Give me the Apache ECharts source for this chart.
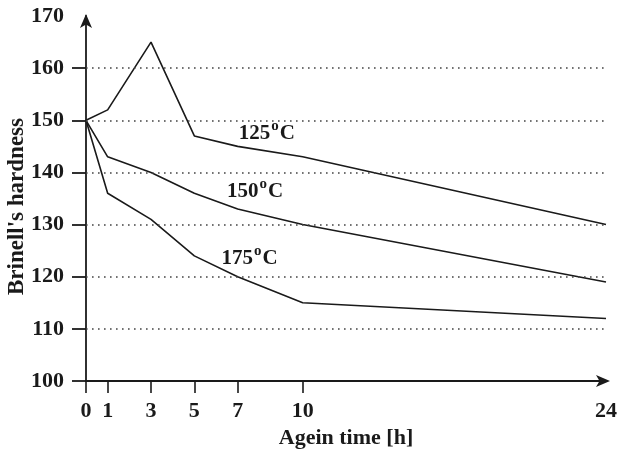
<!DOCTYPE html>
<html>
<head>
<meta charset="utf-8">
<script src="https://cdn.jsdelivr.net/npm/echarts@6/dist/echarts.min.js"></script>
<style>
  html, body { margin: 0; padding: 0; background: #fff; }
  #chart { width: 617px; height: 450px; }
</style>
</head>
<body>
<div id="chart"></div>
<script>
const hours = [0, 1, 3, 5, 7, 10, 24]
const hard125 = [150, 152, 165, 147, 145, 143, 130]
const hard150 = [150, 143, 140, 136, 133, 130, 119]
const hard175 = [150, 136, 131, 124, 120, 115, 112]
const xTicks = [0, 1, 3, 5, 7, 10]
const xLabels = [0, 1, 3, 5, 7, 10, 24]
const yTicks = [100, 110, 120, 130, 140, 150, 160]
const yLabels = [100, 110, 120, 130, 140, 150, 160, 170]
const gridValues = [110, 120, 130, 140, 150, 160]
// curve labels: [name, x, y] in data units
const curveLabels = [['125', 8.35, 147.4], ['150', 7.8, 136.4], ['175', 7.55, 123.4]]

const font = '"Liberation Serif", "Times New Roman", serif'
const chart = echarts.init(document.getElementById('chart'))

function lineSeries(name, values) {
  return {
    name,
    type: 'line',
    data: hours.map((h, i) => [h, values[i]]),
    symbol: 'none',
    lineStyle: { color: '#1a1a1a', width: 1.6 },
    z: 3
  }
}

const series = [
  lineSeries('125', hard125),
  lineSeries('150', hard150),
  lineSeries('175', hard175)
]

series[0].markLine = {
  silent: true,
  symbol: 'none',
  label: { show: false },
  lineStyle: { color: '#444', width: 1.6, type: [1.6, 4.4] },
  data: gridValues.map(v => ({ yAxis: v }))
}

series[1].markPoint = {
  silent: true,
  symbol: 'circle',
  symbolSize: 1,
  itemStyle: { color: 'rgba(0,0,0,0)' },
  data: curveLabels.map(c => ({
    coord: [c[1], c[2]],
    label: {
      show: true,
      position: 'inside',
      formatter: '{n|' + c[0] + '}{s|o}{n|C}',
      rich: {
        n: { fontFamily: font, fontWeight: 'bold', fontSize: 21, color: '#1a1a1a' },
        s: { fontFamily: font, fontWeight: 'bold', fontSize: 15, color: '#1a1a1a', padding: [0, 1, 15, 1] }
      }
    }
  }))
}

chart.setOption({
  animation: false,
  grid: { left: 86, right: 11, top: 16, bottom: 69, outerBoundsMode: 'none' },
  xAxis: {
    type: 'value',
    min: 0,
    max: 24,
    name: 'Agein time [h]',
    nameLocation: 'middle',
    nameGap: 44,
    nameTextStyle: { fontFamily: font, fontWeight: 'bold', fontSize: 22, color: '#1a1a1a' },
    axisLine: { lineStyle: { color: '#1a1a1a', width: 1.8 }, symbol: ['none', 'arrow'], symbolSize: [9, 14], symbolOffset: [0, 4] },
    axisTick: { show: true, length: 12, lineStyle: { color: '#1a1a1a', width: 1.6 }, customValues: xTicks },
    axisLabel: { margin: 19, fontFamily: font, fontWeight: 'bold', fontSize: 22, color: '#1a1a1a', customValues: xLabels },
    splitLine: { show: false }
  },
  yAxis: {
    type: 'value',
    min: 100,
    max: 170,
    interval: 10,
    name: "Brinell's hardness",
    nameLocation: 'middle',
    nameGap: 57,
    nameMoveOverlap: false,
    nameTextStyle: { fontFamily: font, fontWeight: 'bold', fontSize: 23, color: '#1a1a1a', padding: [0, 16, 0, 0] },
    axisLine: { show: true, lineStyle: { color: '#1a1a1a', width: 1.8 }, symbol: ['none', 'arrow'], symbolSize: [9, 14], symbolOffset: [0, 2] },
    axisTick: { show: true, length: 14, lineStyle: { color: '#1a1a1a', width: 1.8 }, customValues: yTicks },
    axisLabel: { margin: 22, fontFamily: font, fontWeight: 'bold', fontSize: 22, color: '#1a1a1a', customValues: yLabels },
    splitLine: { show: false }
  },
  series
})
</script>
</body>
</html>
